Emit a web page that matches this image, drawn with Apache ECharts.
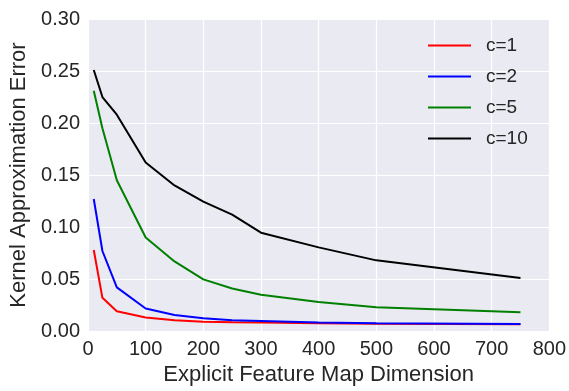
<!DOCTYPE html>
<html>
<head>
<meta charset="utf-8">
<script src="https://cdn.jsdelivr.net/npm/echarts@6/dist/echarts.min.js"></script>
<style>
  html, body { margin: 0; padding: 0; background: #fff; }
  #chart { width: 569px; height: 391px; }
</style>
</head>
<body>
<div id="chart"></div>
<script>
// feature map dimensions (x)
var dims = [10, 25, 50, 100, 150, 200, 250, 300, 400, 500, 750];
// approximation error per c
var errC1 = [0.078, 0.032, 0.019, 0.013, 0.0104, 0.0091, 0.0086, 0.0082, 0.0075, 0.0071, 0.0066];
var errC2 = [0.127, 0.077, 0.042, 0.0217, 0.0154, 0.0123, 0.0105, 0.0097, 0.0082, 0.0076, 0.0069];
var errC5 = [0.231, 0.195, 0.145, 0.090, 0.067, 0.0497, 0.041, 0.035, 0.028, 0.023, 0.018];
var errC10 = [0.251, 0.225, 0.208, 0.162, 0.140, 0.1245, 0.112, 0.0946, 0.0805, 0.068, 0.051];
var seriesNames = ['c=1', 'c=2', 'c=5', 'c=10'];
var seriesColors = ['#ff0000', '#0000ff', '#008000', '#000000'];

var font = '"Liberation Sans", Arial, sans-serif';
var textColor = '#262626';

function pairs(ys) {
    return dims.map(function(x, i) { return [x, ys[i]]; });
}

var chart = echarts.init(document.getElementById('chart'));

var allData = [errC1, errC2, errC5, errC10];
var series = allData.map(function(d, i) {
    return {
        name: seriesNames[i],
        type: 'line',
        data: pairs(d),
        showSymbol: false,
        symbol: 'none',
        lineStyle: { color: seriesColors[i], width: 2 },
        itemStyle: { color: seriesColors[i] },
        animation: false
    };
});

var option = {
    backgroundColor: '#ffffff',
    animation: false,
    grid: {
        left: 88, top: 19, right: 18, bottom: 54,
        show: true,
        backgroundColor: '#eaeaf2',
        borderWidth: 0
    },
    legend: {
        orient: 'vertical',
        left: 428,
        top: 36,
        padding: 0,
        itemGap: 12,
        itemWidth: 43,
        itemHeight: 2,
        icon: 'rect',
        textStyle: { fontFamily: font, fontSize: 19, color: textColor, padding: [0, 0, 0, 10] },
        data: seriesNames
    },
    xAxis: {
        type: 'value',
        min: 0, max: 800, interval: 100,
        name: 'Explicit Feature Map Dimension',
        nameLocation: 'middle',
        nameGap: 31,
        nameTextStyle: { fontFamily: font, fontSize: 22, color: textColor },
        axisLine: { show: false },
        axisTick: { show: false },
        axisLabel: { fontFamily: font, fontSize: 20, color: textColor, margin: 8 },
        splitLine: { show: true, lineStyle: { color: '#ffffff', width: 1.2 } }
    },
    yAxis: {
        type: 'value',
        min: 0, max: 0.3, interval: 0.05,
        name: 'Kernel Approximation Error',
        nameLocation: 'middle',
        nameGap: 57,
        nameTextStyle: { fontFamily: font, fontSize: 22, color: textColor },
        axisLine: { show: false },
        axisTick: { show: false },
        axisLabel: {
            fontFamily: font, fontSize: 20, color: textColor, margin: 8,
            formatter: function(v) { return v.toFixed(2); }
        },
        splitLine: { show: true, lineStyle: { color: '#ffffff', width: 1.2 } }
    },
    series: series
};

chart.setOption(option);
</script>
</body>
</html>
